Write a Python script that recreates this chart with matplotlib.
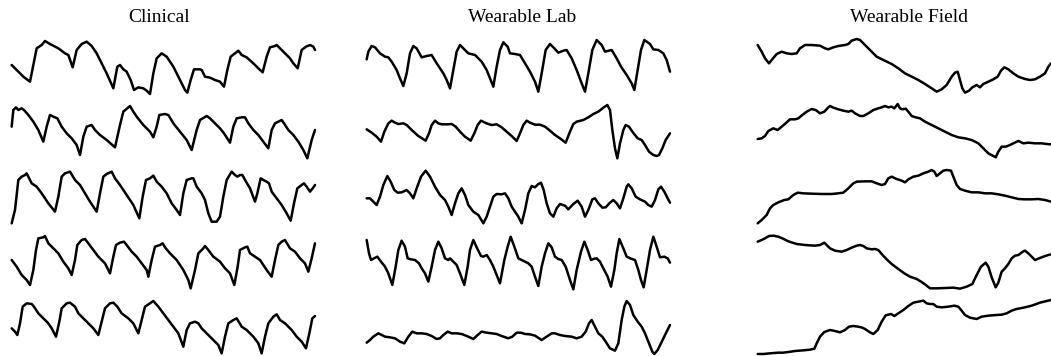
import matplotlib.pyplot as plt
import numpy as np

# traces, as (sample, level) points; level grows downward
# Clinical
clin1 = [(35,105),(70,140),(90,155),(110,55),(125,45),(135,33),(150,42),(175,55),(195,70),(205,75),(218,112),
         (230,60),(245,42),(260,35),(275,48),(290,70),(305,100),(320,130),(340,175),(352,110),(360,105),(370,118),
         (380,125),(392,150),(402,180),(415,172),(430,175),(440,182),(450,192),(460,130),(470,85),(485,70),(500,80),
         (520,110),(540,150),(555,180),(562,188),(572,150),(582,118),(600,118),(605,120),(615,140),(630,143),
         (645,150),(660,155),(672,170),(682,120),(692,80),(705,70),(715,62),(725,75),(740,82),(760,100),(775,115),
         (788,127),(800,80),(810,52),(825,48),(830,45),(840,55),(855,70),(870,85),(880,100),(893,115),(905,60),
         (918,50),(930,45),(940,50),(945,60)]
clin2 = [(35,290),(40,240),(48,232),(55,240),(65,235),(72,240),(85,255),(100,275),(115,300),(130,335),(140,290),
         (150,255),(160,260),(172,265),(185,290),(200,310),(215,325),(230,345),(240,375),(250,320),(260,290),
         (275,285),(285,300),(300,315),(320,330),(345,352),(360,285),(370,245),(390,228),(400,245),(410,260),
         (430,285),(450,305),(460,322),(470,290),(478,255),(495,252),(505,255),(520,280),(540,305),(560,330),
         (575,360),(590,300),(600,270),(620,258),(630,265),(645,280),(660,295),(672,310),(690,338),(700,290),
         (710,265),(725,262),(735,262),(745,280),(760,300),(775,315),(790,335),(805,355),(815,300),(825,280),
         (845,270),(852,280),(865,300),(880,315),(895,335),(910,360),(922,385),(935,330),(945,300)]
clin3 = [(35,190),(45,150),(55,60),(65,50),(75,45),(80,40),(95,70),(110,80),(125,100),(145,130),(165,155),
         (175,110),(185,50),(195,40),(210,35),(225,60),(240,75),(255,100),(270,125),(290,155),(300,100),(310,50),
         (320,42),(335,35),(345,55),(360,75),(380,105),(400,135),(418,175),(428,110),(438,60),(450,55),(460,47),
         (470,65),(485,80),(500,100),(515,130),(530,150),(540,165),(550,100),(560,60),(575,55),(580,55),(590,80),
         (605,100),(615,120),(625,160),(635,185),(650,185),(660,170),(670,110),(680,60),(695,35),(705,45),
         (712,50),(720,45),(727,45),(738,65),(750,85),(765,125),(772,100),(782,55),(790,60),(800,65),(807,70),
         (815,95),(830,115),(845,135),(860,160),(872,182),(882,130),(892,85),(905,75),(912,70),(920,80),
         (930,95),(938,85),(945,75)]
clin4 = [(35,300),(50,320),(65,345),(80,360),(90,375),(100,330),(108,270),(115,235),(130,232),(135,228),
         (145,250),(160,265),(175,280),(190,305),(205,325),(215,345),(225,300),(232,255),(245,240),(255,237),
         (265,250),(280,270),(295,290),(315,310),(330,340),(340,290),(348,255),(360,248),(372,245),(380,255),
         (395,275),(410,290),(425,310),(440,330),(445,350),(455,300),(465,260),(480,255),(488,250),(495,262),
         (510,280),(530,300),(550,330),(565,360),(572,385),(585,330),(595,280),(610,265),(615,258),(625,270),
         (640,290),(660,305),(675,325),(690,340),(703,375),(713,320),(720,270),(735,262),(742,260),(750,280),
         (765,290),(780,300),(800,330),(815,350),(825,300),(835,255),(845,245),(855,240),(870,265),(885,275),
         (900,295),(915,310),(925,335),(935,295),(945,250)]
clin5 = [(35,505),(45,515),(52,525),(60,490),(68,440),(80,430),(95,432),(102,440),(115,460),(130,475),(145,490),
         (155,505),(168,530),(178,485),(185,445),(200,430),(210,428),(225,440),(235,460),(250,475),(265,490),
         (280,505),(295,525),(305,485),(315,445),(330,430),(340,428),(352,440),(365,460),(385,475),(400,490),
         (415,520),(425,480),(435,440),(450,430),(460,423),(475,440),(490,460),(505,480),(520,500),(535,520),
         (550,560),(560,510),(570,490),(585,485),(595,490),(605,505),(620,520),(640,540),(655,555),(665,580),
         (675,530),(685,490),(700,480),(710,475),(725,500),(740,510),(760,530),(775,550),(785,580),(795,530),
         (805,490),(820,470),(830,463),(840,480),(855,490),(875,510),(890,530),(905,545),(918,565),(928,520),
         (937,475),(945,468)]

# Wearable Lab
lab1 = [(35,88),(40,65),(50,48),(60,52),(75,70),(90,80),(100,82),(110,95),(125,120),(135,145),(145,168),
        (155,130),(165,70),(175,48),(185,55),(200,82),(215,78),(230,75),(245,100),(265,130),(275,150),(285,175),
        (295,120),(305,65),(315,45),(330,60),(340,70),(360,75),(380,95),(395,120),(405,145),(415,170),(425,110),
        (435,60),(445,37),(458,50),(465,70),(480,72),(495,75),(510,100),(525,125),(540,155),(550,185),(560,130),
        (572,60),(585,42),(598,55),(610,68),(625,62),(635,60),(650,85),(665,120),(680,160),(690,185),(700,130),
        (712,60),(725,30),(740,45),(750,65),(762,62),(770,60),(785,85),(798,110),(815,135),(830,160),(838,180),
        (848,120),(858,60),(868,30),(885,42),(895,58),(910,60),(925,70),(935,90),(945,125)]
lab2 = [(35,298),(50,308),(65,320),(78,335),(88,305),(100,280),(110,272),(120,278),(130,282),(145,280),
        (155,285),(170,300),(190,318),(212,332),(222,310),(230,285),(240,272),(250,280),(260,283),(275,283),
        (290,282),(302,290),(315,305),(330,320),(347,332),(358,310),(368,285),(378,272),(390,278),(400,282),
        (410,285),(425,283),(440,292),(455,305),(470,318),(485,333),(495,310),(505,285),(515,272),(525,278),
        (540,284),(555,284),(570,290),(585,302),(600,315),(615,325),(632,338),(645,305),(655,282),(665,275),
        (685,270),(700,262),(715,252),(730,245),(745,233),(757,225),(765,240),(772,300),(780,355),(787,385),
        (795,340),(805,300),(812,285),(822,290),(832,305),(848,325),(860,330),(870,345),(882,365),(895,375),
        (905,378),(912,375),(922,355),(932,330),(945,310)]
lab3 = [(35,115),(45,115),(55,125),(65,135),(75,110),(85,75),(97,48),(107,65),(118,90),(128,98),(140,97),
        (155,90),(165,100),(175,115),(185,85),(198,50),(212,32),(225,50),(240,80),(255,105),(270,120),(280,140),
        (290,165),(300,130),(310,100),(320,85),(330,105),(340,135),(355,155),(370,165),(385,190),(395,170),
        (405,140),(415,110),(425,102),(440,103),(450,100),(460,115),(470,140),(480,155),(490,170),(500,190),
        (510,150),(520,100),(530,78),(540,82),(550,72),(558,68),(566,90),(575,130),(585,160),(595,170),(605,145),
        (615,132),(630,137),(640,148),(655,132),(668,122),(680,140),(690,170),(700,150),(712,118),(720,115),
        (730,130),(742,143),(752,142),(765,128),(775,120),(785,130),(795,145),(805,115),(815,80),(820,73),
        (830,85),(842,110),(855,118),(870,125),(880,135),(890,140),(900,120),(910,88),(918,80),(928,95),
        (938,115),(945,128)]
lab4 = [(35,240),(42,280),(48,300),(57,295),(67,290),(78,305),(90,320),(100,340),(112,375),(122,320),(130,270),
        (140,242),(150,260),(158,295),(168,298),(180,300),(192,310),(200,325),(210,340),(220,365),(230,320),
        (240,270),(250,245),(260,265),(270,295),(280,300),(285,295),(295,305),(305,315),(315,340),(328,375),
        (338,320),(345,270),(355,240),(365,262),(378,288),(385,290),(395,285),(405,300),(415,320),(425,345),
        (435,370),(448,300),(458,260),(467,230),(478,260),(490,295),(500,300),(510,305),(520,310),(530,320),
        (540,350),(550,378),(560,320),(570,280),(580,250),(590,262),(600,290),(610,297),(620,300),(632,320),
        (645,360),(655,388),(665,330),(678,275),(688,245),(698,270),(708,300),(718,296),(725,295),(735,305),
        (745,325),(758,350),(768,380),(778,330),(785,280),(793,237),(805,265),(815,290),(828,296),(840,300),
        (850,330),(858,360),(866,382),(875,330),(885,270),(895,230),(905,260),(915,292),(928,290),(938,295),
        (945,308)]
lab5 = [(35,548),(45,540),(55,530),(70,520),(80,525),(90,530),(105,532),(120,535),(135,545),(148,550),
        (160,530),(172,515),(185,520),(200,520),(215,522),(230,528),(245,537),(255,535),(265,525),(278,515),
        (290,520),(305,520),(320,522),(340,530),(355,537),(368,525),(380,515),(395,518),(410,520),(425,522),
        (440,528),(460,535),(472,530),(485,518),(498,518),(510,522),(525,523),(540,527),(560,540),(575,530),
        (590,520),(600,520),(615,525),(630,528),(650,530),(665,535),(680,530),(692,515),(702,490),(710,480),
        (720,500),(730,520),(742,530),(752,545),(765,565),(780,572),(790,550),(800,480),(808,440),(815,423),
        (825,435),(835,465),(848,485),(860,500),(870,520),(880,545),(892,575),(898,582),(908,570),(918,550),
        (930,525),(945,495)]

# Wearable Field
field1 = [(38,45),(50,65),(60,85),(72,100),(80,90),(95,72),(110,65),(125,70),(140,72),(155,70),(165,55),
          (180,45),(200,45),(225,47),(240,55),(250,58),(265,52),(280,48),(300,45),(310,42),(320,32),(335,27),
          (345,30),(360,45),(375,60),(395,80),(415,90),(440,102),(460,115),(480,130),(500,140),(520,150),
          (540,162),(560,175),(575,185),(590,178),(605,165),(620,140),(630,128),(638,125),(645,150),(652,175),
          (660,188),(672,182),(682,172),(695,165),(705,172),(715,162),(730,155),(745,148),(758,140),(768,122),
          (778,112),(790,118),(805,130),(820,140),(840,147),(855,150),(870,148),(885,140),(900,130),(910,110),
          (918,100)]
field2 = [(38,327),(50,325),(60,318),(70,303),(85,295),(98,300),(110,290),(122,280),(135,268),(150,268),
          (160,265),(172,255),(185,245),(200,237),(212,240),(225,250),(238,245),(250,232),(255,228),(265,233),
          (280,238),(295,242),(310,245),(320,242),(330,250),(345,258),(355,258),(370,250),(385,240),(400,235),
          (410,232),(420,228),(430,232),(440,230),(448,235),(458,222),(465,235),(472,238),(482,236),(490,245),
          (500,258),(512,262),(525,265),(540,275),(560,285),(580,295),(600,305),(620,315),(640,322),(660,325),
          (680,330),(700,340),(715,355),(730,370),(745,378),(752,382),(760,365),(770,350),(782,350),(795,345),
          (805,340),(820,333),(835,340),(850,338),(870,340),(890,340),(905,342),(918,343)]
field3 = [(38,190),(50,180),(65,165),(75,145),(85,135),(100,127),(118,120),(130,118),(145,105),(158,98),
          (175,100),(200,101),(230,102),(260,102),(280,100),(295,98),(310,85),(325,70),(335,65),(360,64),
          (380,64),(395,70),(410,75),(420,72),(430,55),(440,50),(455,57),(470,62),(480,67),(490,58),(505,50),
          (520,47),(535,40),(550,35),(560,30),(568,35),(575,48),(585,40),(595,32),(605,30),(618,32),(625,50),
          (635,75),(645,87),(660,92),(680,97),(700,97),(720,100),(740,100),(760,103),(780,107),(800,112),
          (820,117),(840,118),(860,118),(880,117),(900,120),(918,125)]
field4 = [(38,245),(50,240),(60,235),(72,228),(85,227),(100,230),(112,235),(130,244),(155,252),(180,255),
          (210,257),(225,255),(238,248),(245,255),(255,265),(270,272),(290,275),(305,270),(320,263),(335,257),
          (345,255),(355,258),(365,265),(380,268),(390,267),(400,270),(410,282),(425,298),(440,312),(460,327),
          (478,340),(495,350),(515,357),(530,366),(545,377),(555,385),(575,385),(600,384),(625,383),(645,386),
          (665,380),(682,372),(695,345),(708,320),(722,308),(730,320),(740,352),(752,382),(760,368),(770,335),
          (780,325),(790,312),(800,295),(810,287),(820,285),(832,276),(840,272),(850,280),(860,290),(870,300),
          (880,296),(895,290),(910,285),(918,283)]
field5 = [(38,582),(55,582),(75,580),(100,578),(115,578),(130,576),(150,573),(175,571),(195,569),(208,566),
          (215,550),(225,530),(238,516),(255,510),(270,513),(285,517),(300,510),(312,500),(325,498),(340,500),
          (352,503),(360,507),(375,517),(385,522),(398,510),(410,485),(422,466),(438,462),(448,468),(460,460),
          (475,450),(490,438),(505,428),(520,425),(535,422),(545,430),(555,432),(565,432),(575,440),(590,442),
          (610,440),(628,437),(640,440),(650,452),(660,465),(675,473),(695,477),(710,470),(730,467),(755,465),
          (770,464),(785,460),(800,452),(815,447),(840,442),(860,437),(885,428),(905,423),(918,420)]

titles = ['Clinical', 'Wearable Lab', 'Wearable Field']

W, H = 1051, 356
fig = plt.figure(figsize=(W/100, H/100), dpi=100)
plt.rcParams['font.family'] = ['Liberation Serif', 'DejaVu Serif']

#Each panel block: pixel box (left, top, width, height) and its traces
blocks = [
    ((0, 30, 330, 140), [clin1, clin2]),
    ((0, 160, 330, 196), [clin3, clin4, clin5]),
    ((355, 30, 330, 140), [lab1, lab2]),
    ((355, 160, 330, 196), [lab3, lab4, lab5]),
    ((745, 30, 306, 140), [field1, field2]),
    ((745, 160, 306, 196), [field3, field4, field5]),
]

for (l, t, w, h), traces in blocks:
    ax = fig.add_axes([l/W, 1 - (t + h)/H, w/W, h/H])
    ax.set_xlim(0, 3*w)
    ax.set_ylim(3*h, 0)
    ax.axis('off')
    for tr in traces:
        pts = np.array(tr)
        ax.plot(pts[:, 0], pts[:, 1], color='black', lw=1.8,
                solid_joinstyle='round', solid_capstyle='round', clip_on=False)

#Column titles
for x, s in zip([159, 522, 909], titles):
    fig.text(x/W, 1 - 18/H, s, ha='center', va='center', fontsize=14)

plt.savefig('out.png', dpi=100)
